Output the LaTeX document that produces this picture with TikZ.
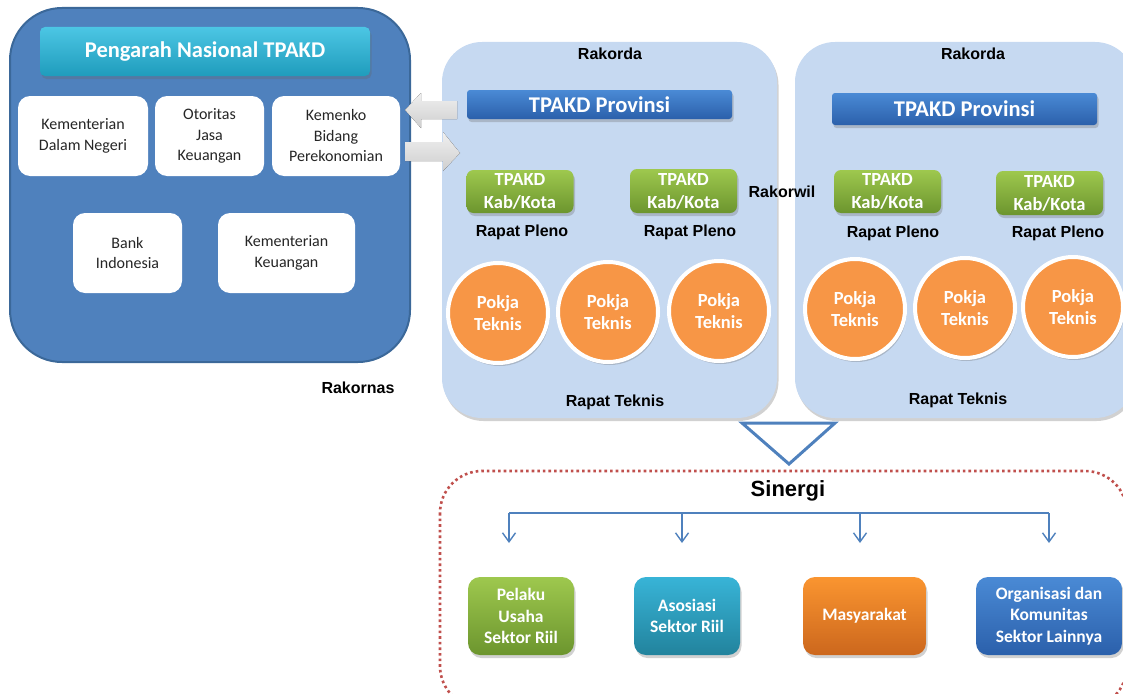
\documentclass[tikz,border=0pt]{standalone}
\usepackage{fontspec}
\setmainfont{Carlito}
\newfontfamily\arialfont{Liberation Sans}
\usetikzlibrary{shadows,arrows.meta}

\definecolor{natblue}{HTML}{4F81BD}
\definecolor{natedge}{HTML}{3B6899}
\definecolor{paleblue}{HTML}{C6D9F1}
\definecolor{cyantop}{HTML}{4CC6E4}
\definecolor{cyanbot}{HTML}{1F9CBC}
\definecolor{provtop}{HTML}{4A8AD5}
\definecolor{provbot}{HTML}{2B60AB}
\definecolor{greentop}{HTML}{9EC84E}
\definecolor{greenbot}{HTML}{6C952E}
\definecolor{pokja}{HTML}{F79646}
\definecolor{orgtop}{HTML}{FA9530}
\definecolor{orgbot}{HTML}{CC671D}
\definecolor{asotop}{HTML}{38B4D7}
\definecolor{asobot}{HTML}{22839D}
\definecolor{dotred}{HTML}{C0504D}
\definecolor{txtgray}{HTML}{262626}

\tikzset{
  softshadow/.style={drop shadow={shadow xshift=1.5pt, shadow yshift=-3pt, opacity=0.3, fill=black!60}},
  label16/.style={font={\arialfont\bfseries\fontsize{16}{19}\selectfont}, text=black, inner sep=0pt},
  member/.style={fill=white, rounded corners=12pt, inner sep=0pt, align=center,
    font={\fontsize{16}{20.5}\selectfont}, text=txtgray},
  regionbox/.style={fill=paleblue, rounded corners=40pt, inner sep=0pt, softshadow},
  provbar/.style={top color=provtop, bottom color=provbot, rounded corners=3pt, inner sep=0pt,
    text=white, font={\bfseries\fontsize{22.5}{24}\selectfont}, softshadow},
  kabbox/.style={top color=greentop, bottom color=greenbot, rounded corners=7pt, inner sep=0pt,
    minimum width=107pt, align=center, text=white, font={\bfseries\fontsize{18.5}{23}\selectfont}, softshadow},
  pokjanode/.style={circle, fill=pokja, draw=white, line width=4pt, minimum size=100pt, inner sep=0pt,
    align=center, text=white, font={\bfseries\fontsize{18.5}{22.5}\selectfont}, softshadow},
  partner/.style={rounded corners=12pt, inner sep=0pt, minimum height=78pt, align=center,
    text=white, font={\bfseries\fontsize{17.5}{21.5}\selectfont}, softshadow},
  grayarrow/.style={top color=gray!12, bottom color=gray!38},
  branch/.style={draw=natblue, line width=1.4pt},
  tip/.style={-{Straight Barb[length=9pt,width=13pt,line width=1.4pt]}},
}

\begin{document}
\begin{tikzpicture}[x=1pt,y=-1pt]
\useasboundingbox (0,0) rectangle (1123,693);
\clip (0,0) rectangle (1123,693);

% national steering committee
\node[fill=natblue, draw=natedge, line width=2pt, rounded corners=52pt,
      minimum width=400pt, minimum height=354pt, inner sep=0pt] (nas) at (210,185) {};
\node[top color=cyantop, bottom color=cyanbot, rounded corners=5pt, minimum width=330pt,
      minimum height=49pt, inner sep=0pt, text=white, font={\bfseries\fontsize{22.5}{24}\selectfont},
      softshadow] (title) at (205,51.5) {Pengarah Nasional TPAKD};
\node[member, minimum width=130pt, minimum height=80pt] (kdn) at (83,136) {Kementerian\\Dalam Negeri};
\node[member, minimum width=109pt, minimum height=80pt] (ojk) at (209.5,136) {Otoritas\\Jasa\\Keuangan};
\node[member, minimum width=128pt, minimum height=80pt] (kbp) at (336,136) {Kemenko\\Bidang\\Perekonomian};
\node[member, minimum width=109pt, minimum height=80pt] (bi) at (127.5,253) {Bank\\Indonesia};
\node[member, minimum width=137pt, minimum height=80pt] (kk) at (286.5,253) {Kementerian\\Keuangan};
\node[label16] (rakornas) at (358,388) {Rakornas};

% provincial regions
\node[regionbox, minimum width=335pt, minimum height=376pt] (regA) at (609.5,230) {};
\node[regionbox, minimum width=340pt, minimum height=376pt] (regB) at (965,230) {};

\node[label16] (rakordaA) at (610,54) {Rakorda};
\node[label16] (rakordaB) at (973,54) {Rakorda};

\node[provbar, minimum width=265pt, minimum height=29pt] (provA) at (599.5,104.5) {TPAKD Provinsi};
\node[provbar, minimum width=265pt, minimum height=32pt] (provB) at (964.5,109) {TPAKD Provinsi};

\node[kabbox, minimum height=43pt] (kabA1) at (520,191.5) {TPAKD\\Kab/Kota};
\node[kabbox, minimum height=44pt] (kabA2) at (683.5,191) {TPAKD\\Kab/Kota};
\node[kabbox, minimum height=43pt] (kabB1) at (887.5,191.5) {TPAKD\\Kab/Kota};
\node[kabbox, minimum height=44pt] (kabB2) at (1049.5,193) {TPAKD\\Kab/Kota};

\node[label16] (plenoA1) at (522,232) {Rapat Pleno};
\node[label16] (plenoA2) at (690,232) {Rapat Pleno};
\node[label16] (plenoB1) at (893,233) {Rapat Pleno};
\node[label16] (plenoB2) at (1058,233) {Rapat Pleno};

\node[pokjanode] (pkA1) at (498,313) {Pokja\\Teknis};
\node[pokjanode] (pkA2) at (608,312) {Pokja\\Teknis};
\node[pokjanode] (pkA3) at (719,311) {Pokja\\Teknis};
\node[pokjanode] (pkB1) at (855,309) {Pokja\\Teknis};
\node[pokjanode] (pkB2) at (965,308) {Pokja\\Teknis};
\node[pokjanode] (pkB3) at (1073,307) {Pokja\\Teknis};

\node[label16] (teknisA) at (615,402) {Rapat Teknis};
\node[label16] (teknisB) at (958,400) {Rapat Teknis};
\node[label16] (rakorwil) at (782,192) {Rakorwil};

% exchange arrows between national and provincial level
\fill[grayarrow] (405,110) -- (421,93) -- (421,101) -- (457,101) -- (457,119) -- (421,119) -- (421,128) -- cycle;
\fill[grayarrow] (460,153) -- (443,132) -- (443,142) -- (405,142) -- (405,161) -- (443,161) -- (443,171) -- cycle;

% funnel into the synergy area
\coordinate (funL) at (742,423);
\coordinate (funR) at (835,423);
\coordinate (funT) at (789,464);
\draw[natblue, line width=3pt, line join=miter] (funL) -- (funR) -- (funT) -- cycle;

\draw[dotred, line width=2.6pt, dash pattern=on 2.6pt off 3pt, rounded corners=42pt]
  (440,471) rectangle (1127,708);

\node[font={\arialfont\bfseries\fontsize{22}{24}\selectfont}, inner sep=0pt] (sinergi) at (788,491) {Sinergi};

\coordinate (b1) at (509,513);
\coordinate (b2) at (682,513);
\coordinate (b3) at (860,513);
\coordinate (b4) at (1049,513);
\coordinate (e1) at (509,543);
\coordinate (e2) at (682,543);
\coordinate (e3) at (860,543);
\coordinate (e4) at (1049,543);
\draw[branch] (b1) -- (b4);
\draw[branch, tip] (b1) -- (e1);
\draw[branch, tip] (b2) -- (e2);
\draw[branch, tip] (b3) -- (e3);
\draw[branch, tip] (b4) -- (e4);

\node[partner, top color=greentop, bottom color=greenbot, minimum width=106pt] (pelaku) at (521,616) {Pelaku\\Usaha\\Sektor Riil};
\node[partner, top color=asotop, bottom color=asobot, minimum width=106pt] (asosiasi) at (687,616) {Asosiasi\\Sektor Riil};
\node[partner, top color=orgtop, bottom color=orgbot, minimum width=123pt] (masy) at (864.5,616) {Masyarakat};
\node[partner, top color=provtop, bottom color=provbot, minimum width=146pt] (orgkom) at (1049,616) {Organisasi dan\\Komunitas\\Sektor Lainnya};
\end{tikzpicture}
\end{document}
